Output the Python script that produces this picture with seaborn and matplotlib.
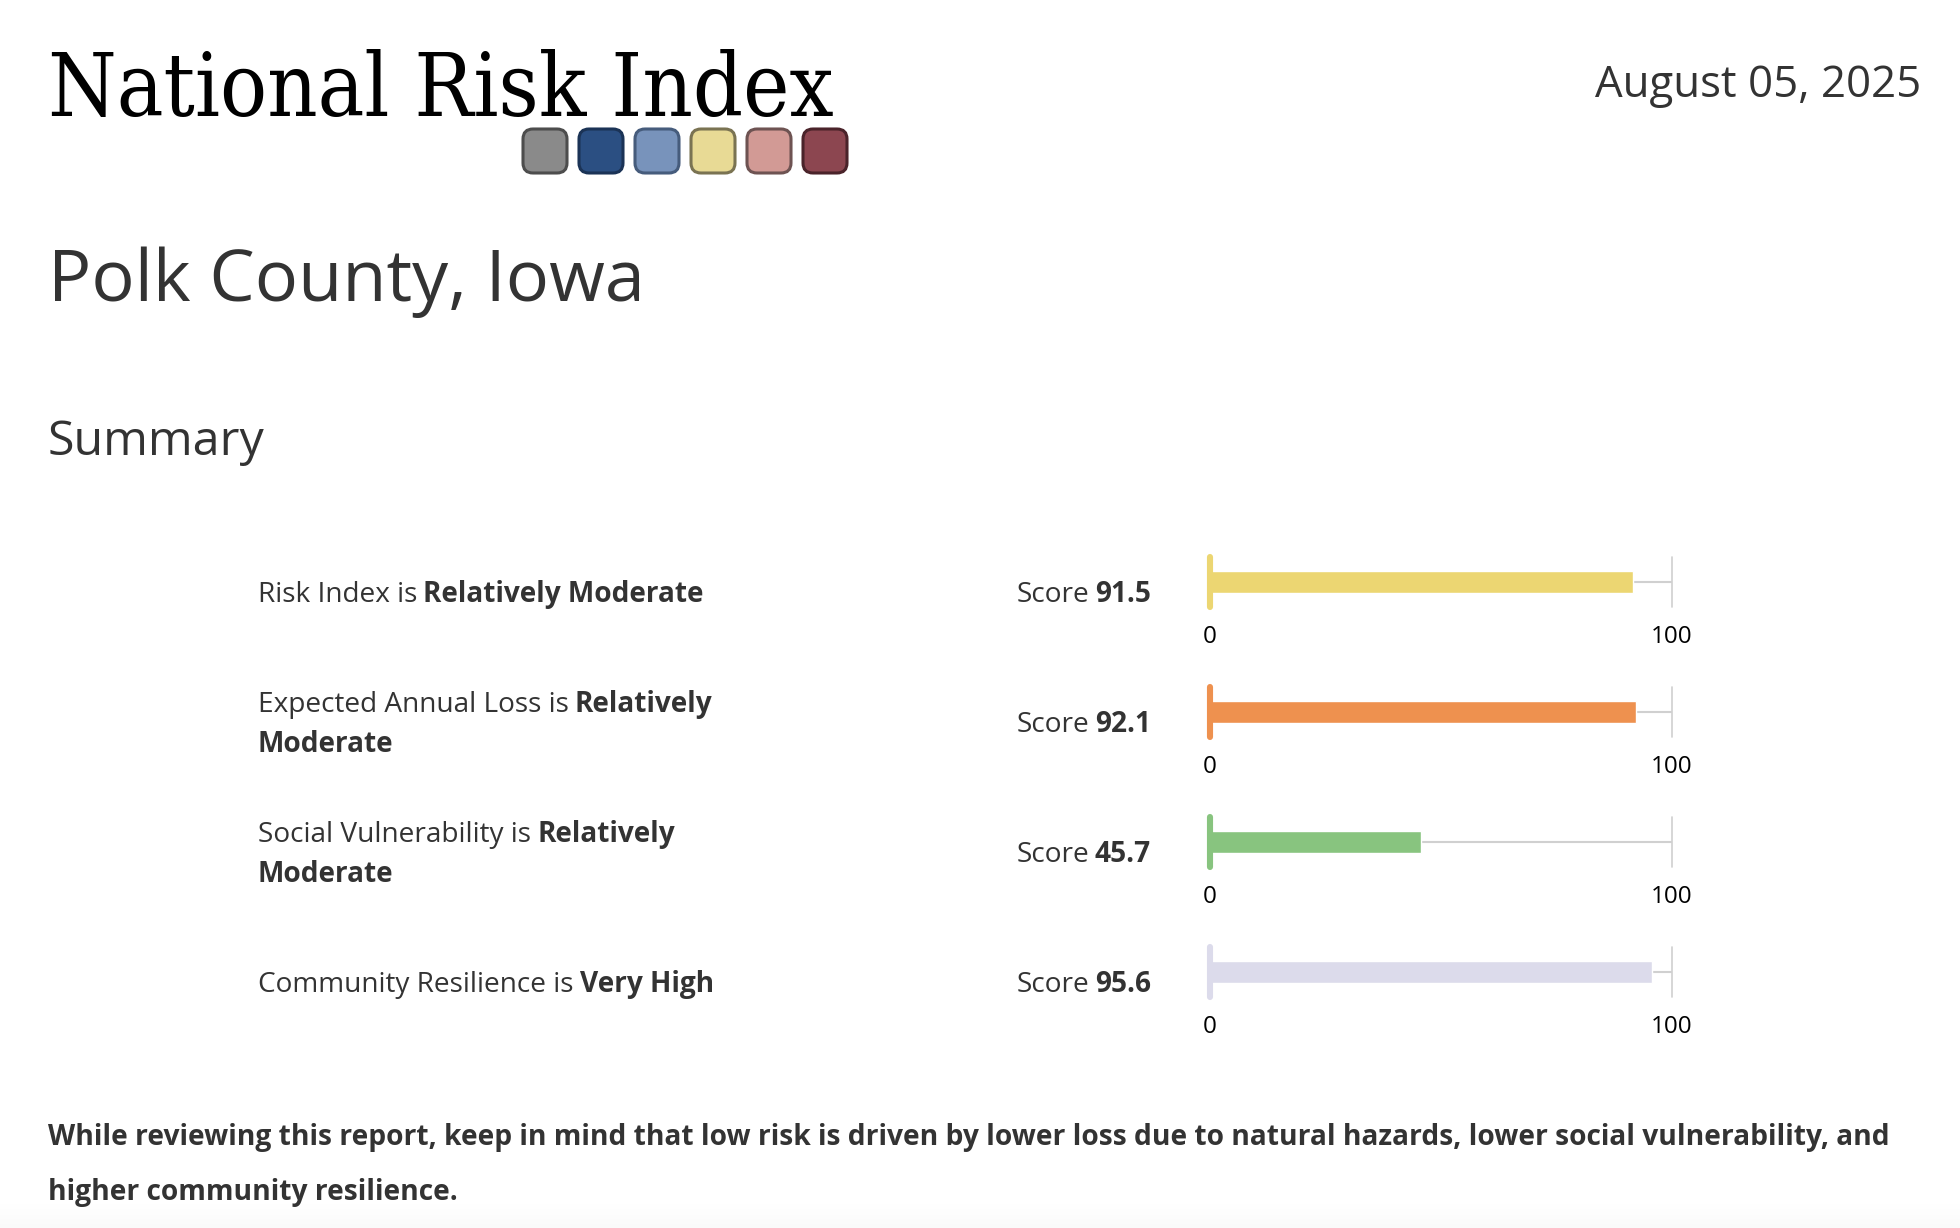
import matplotlib
matplotlib.use('Agg')
import matplotlib.pyplot as plt
import seaborn as sns
import numpy as np
import pandas as pd
from matplotlib.patches import FancyBboxPatch

# data
measures = ['Risk Index', 'Expected Annual Loss', 'Social Vulnerability', 'Community Resilience']
ratings = ['Relatively Moderate', 'Relatively Moderate', 'Relatively Moderate', 'Very High']
scores = [91.5, 92.1, 45.7, 95.6]
bar_colors = ['#ecd672', '#ee914f', '#88c47f', '#dcdbeb']
wrap_rating = [False, True, True, False]

logo_fill = ['#8a8a8a', '#2b4f82', '#7893bb', '#e8da95', '#d29a95', '#8c4650']
logo_edge = ['#4d4d4d', '#1b3356', '#465c7c', '#7a7352', '#6e5352', '#4a232a']

W, H = 1960, 1228
DARK = '#333333'

sns.set_theme(style='white')
plt.rcParams['font.family'] = ['Open Sans', 'DejaVu Sans']

fig = plt.figure(figsize=(W / 100, H / 100), dpi=100)
fig.patch.set_facecolor('white')


def fx(x):
    return x / W


def fy(y):
    return 1 - y / H


renderer = fig.canvas.get_renderer()


def width_of(t):
    return t.get_window_extent(renderer).width


# faint page fade at the bottom
bg = fig.add_axes([0, 0, 1, 26 / H], zorder=-5)
bg.imshow(np.linspace(0, 1, 20).reshape(-1, 1), cmap='Greys', vmin=0, vmax=25,
          aspect='auto', extent=(0, 1, 0, 1), origin='upper')
bg.axis('off')

# header
title = fig.text(fx(48), fy(116), 'National Risk Index', family='DejaVu Serif',
                 fontstretch='condensed', fontsize=60, color='black', va='baseline')
title.set_fontsize(60 * 787 / width_of(title))

fig.text(fx(1921), fy(97), 'August 05, 2025', fontsize=31.5, color=DARK,
         ha='right', va='baseline')

for i, (fc, ec) in enumerate(zip(logo_fill, logo_edge)):
    x0 = 523 + 56 * i
    box = FancyBboxPatch((x0 / 100, (H - 173) / 100), 0.44, 0.44,
                         boxstyle='round,pad=0,rounding_size=0.1',
                         transform=fig.dpi_scale_trans, fc=fc, ec=ec, lw=2.2)
    fig.add_artist(box)

fig.text(fx(48), fy(301), 'Polk County, Iowa', fontsize=51.8, color=DARK, va='baseline')
fig.text(fx(48), fy(455), 'Summary', fontsize=34.8, color=DARK, va='baseline')

# rows
for i, (m, r, s, col, wrap) in enumerate(zip(measures, ratings, scores, bar_colors, wrap_rating)):
    c = 582 + 130 * i

    # label text (normal + bold)
    base = c if wrap else c + 20
    t = fig.text(fx(258), fy(base), f'{m} is', fontsize=20.2, color=DARK, va='baseline')
    x_bold = 258 + width_of(t) + 6
    if wrap:
        first, second = r.split(' ', 1)
        fig.text(fx(x_bold), fy(base), first, fontsize=20.2, color=DARK,
                 weight='bold', va='baseline')
        fig.text(fx(258), fy(base + 40), second, fontsize=20.2, color=DARK,
                 weight='bold', va='baseline')
    else:
        fig.text(fx(x_bold), fy(base), r, fontsize=20.2, color=DARK,
                 weight='bold', va='baseline')

    # score text
    sb = fig.text(fx(1151), fy(c + 20), f'{s:.1f}', fontsize=20.2, color=DARK,
                  weight='bold', ha='right', va='baseline')
    x_score = 1151 - width_of(sb) - 6
    fig.text(fx(x_score), fy(c + 20), 'Score', fontsize=20.2, color=DARK,
             ha='right', va='baseline')

    # bar
    ax = fig.add_axes([fx(1210), fy(c + 27), 462 / W, 54 / H])
    df = pd.DataFrame({'measure': [m], 'score': [s]})
    sns.barplot(data=df, x='score', y='measure', color=col, saturation=1,
                width=0.78, ax=ax, zorder=2)
    ax.set_xlim(0, 100)
    ax.set_ylim(1, -1)
    ax.axhline(0, color='#d0d0d0', lw=1.5, zorder=1)
    ax.axvline(100, ymin=0.03, ymax=0.97, color='#d0d0d0', lw=1.2, zorder=1, clip_on=False)
    ax.axvline(0, ymin=0.04, ymax=0.96, color=col, lw=4.4, zorder=3,
               solid_capstyle='round', clip_on=False)
    ax.set(xlabel=None, ylabel=None)
    ax.set_yticks([])
    ax.set_xticks([0, 100])
    ax.tick_params(axis='x', length=0, pad=11.8, labelsize=17.5, labelcolor='black')
    ax.patch.set_alpha(0)
    sns.despine(ax=ax, left=True, bottom=True)

# footnote
note1 = fig.text(fx(48), fy(1145),
                 'While reviewing this report, keep in mind that low risk is driven by lower loss due to '
                 'natural hazards, lower social vulnerability, and',
                 fontsize=20, color=DARK, weight='bold', va='baseline')
note_size = 20 * 1837 / width_of(note1)
note1.set_fontsize(note_size)
fig.text(fx(48), fy(1200), 'higher community resilience.', fontsize=note_size, color=DARK,
         weight='bold', va='baseline')

fig.savefig('out.png', dpi=100)
